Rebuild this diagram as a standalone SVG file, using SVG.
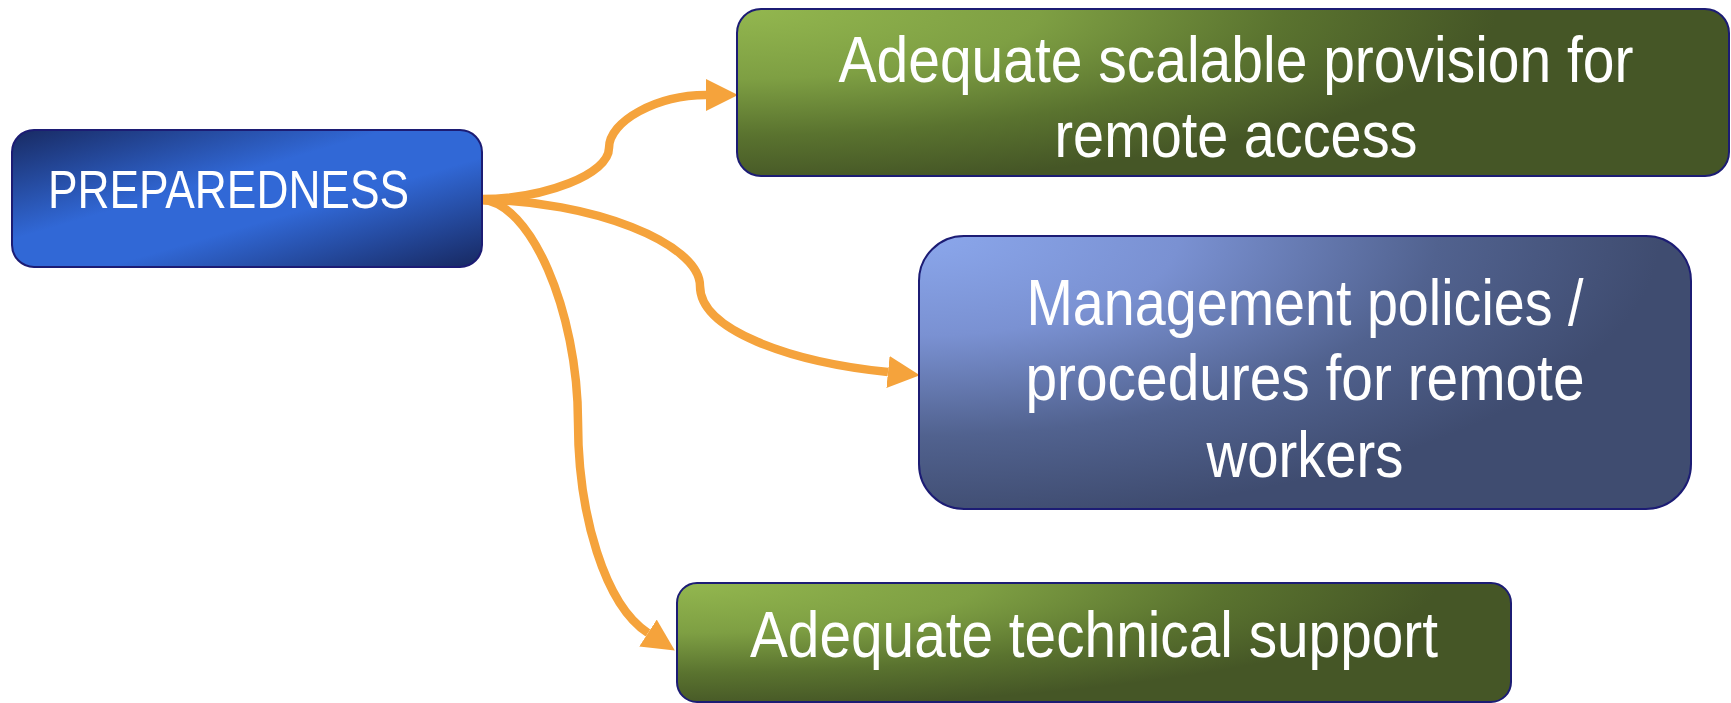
<svg xmlns="http://www.w3.org/2000/svg" width="1731" height="703" viewBox="0 0 1731 703">
  <style>
    .box { stroke: #1c1c74; stroke-width: 2; }
    .lbl { fill: #ffffff; font-family: "Liberation Sans", Arial, sans-serif; }
    .big { font-size: 65px; text-anchor: middle; }
    .conn { fill: none; stroke: #f5a33c; stroke-width: 8.5; }
  </style>
  <defs>
    <linearGradient id="gBlue" x1="0" y1="0" x2="1" y2="1">
      <stop offset="0" stop-color="#182a62"/>
      <stop offset="0.4" stop-color="#3168d6"/>
      <stop offset="0.6" stop-color="#3168d6"/>
      <stop offset="1" stop-color="#172860"/>
    </linearGradient>
    <radialGradient id="gGreenTop" gradientUnits="userSpaceOnUse" cx="0" cy="0" r="1" gradientTransform="translate(737 9) scale(760 175)">
      <stop offset="0" stop-color="#93b74f"/>
      <stop offset="0.4" stop-color="#7e9f43"/>
      <stop offset="0.72" stop-color="#5a732f"/>
      <stop offset="1" stop-color="#455626"/>
    </radialGradient>
    <radialGradient id="gGreenBot" gradientUnits="userSpaceOnUse" cx="0" cy="0" r="1" gradientTransform="translate(677 583) scale(760 125)">
      <stop offset="0" stop-color="#93b74f"/>
      <stop offset="0.4" stop-color="#7e9f43"/>
      <stop offset="0.72" stop-color="#5a732f"/>
      <stop offset="1" stop-color="#455626"/>
    </radialGradient>
    <radialGradient id="gSlate" gradientUnits="userSpaceOnUse" cx="0" cy="0" r="1" gradientTransform="translate(920 236) scale(740 285)">
      <stop offset="0" stop-color="#8ba7ec"/>
      <stop offset="0.35" stop-color="#7a91d2"/>
      <stop offset="0.7" stop-color="#51628f"/>
      <stop offset="1" stop-color="#3f4c70"/>
    </radialGradient>
    <marker id="arrow" markerUnits="userSpaceOnUse" markerWidth="32" markerHeight="32" refX="0" refY="16" orient="auto" viewBox="0 0 32 32">
      <path d="M0,0 L32,16 L0,32 Z" fill="#f5a33c"/>
    </marker>
  </defs>

  <g id="connectors">
    <path class="conn" marker-end="url(#arrow)" d="M481,199 C545,199 609,174 609,148 C609,121 657,95 706,95"/>
    <path class="conn" marker-end="url(#arrow)" d="M481,200 C590,200 700,243 700,286 C700,330 790,362 888,372"/>
    <path class="conn" marker-end="url(#arrow)" d="M481,200 C530,200 578,311 578,422 C578,515 605,605 648,633"/>
  </g>

  <g id="node-preparedness">
    <rect class="box" x="12" y="130" width="470" height="137" rx="22" ry="22" fill="url(#gBlue)"/>
    <text class="lbl" x="48" y="208" font-size="54" textLength="361" lengthAdjust="spacingAndGlyphs">PREPAREDNESS</text>
  </g>

  <g id="node-remote-access">
    <rect class="box" x="737" y="9" width="992" height="167" rx="24" ry="24" fill="url(#gGreenTop)"/>
    <text class="lbl big" x="1236" y="82" textLength="795" lengthAdjust="spacingAndGlyphs">Adequate scalable provision for</text>
    <text class="lbl big" x="1236" y="157" textLength="363" lengthAdjust="spacingAndGlyphs">remote access</text>
  </g>

  <g id="node-management">
    <rect class="box" x="919" y="236" width="772" height="273" rx="45" ry="45" fill="url(#gSlate)"/>
    <text class="lbl big" x="1305" y="325" textLength="557" lengthAdjust="spacingAndGlyphs">Management policies /</text>
    <text class="lbl big" x="1305" y="400" textLength="559" lengthAdjust="spacingAndGlyphs">procedures for remote</text>
    <text class="lbl big" x="1305" y="477" textLength="197" lengthAdjust="spacingAndGlyphs">workers</text>
  </g>

  <g id="node-technical-support">
    <rect class="box" x="677" y="583" width="834" height="119" rx="20" ry="20" fill="url(#gGreenBot)"/>
    <text class="lbl big" x="1094" y="657" textLength="688" lengthAdjust="spacingAndGlyphs">Adequate technical support</text>
  </g>
</svg>
